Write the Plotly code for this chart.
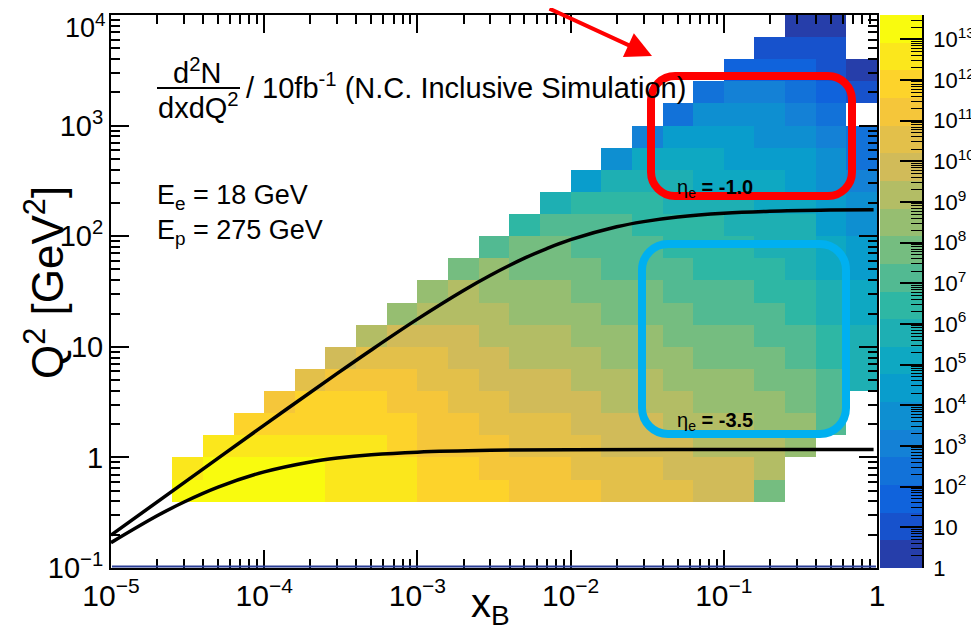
import math
import plotly.graph_objects as go

# ---------------- data ----------------
# bin edges of the 2D histogram (x_B and Q^2, 0.2 decade bins)
X_EDGES = [1.000e-05, 1.585e-05, 2.512e-05, 3.981e-05, 6.310e-05,
           1.000e-04, 1.585e-04, 2.512e-04, 3.981e-04, 6.310e-04,
           1.000e-03, 1.585e-03, 2.512e-03, 3.981e-03, 6.310e-03,
           1.000e-02, 1.585e-02, 2.512e-02, 3.981e-02, 6.310e-02,
           1.000e-01, 1.585e-01, 2.512e-01, 3.981e-01, 6.310e-01, 1.0]
Q2_EDGES = [0.1, 0.1585, 0.2512, 0.3981, 0.631,
            1.0, 1.585, 2.512, 3.981, 6.31,
            10.0, 15.85, 25.12, 39.81, 63.1,
            100.0, 158.5, 251.2, 398.1, 631.0,
            1000.0, 1585.0, 2512.0, 3981.0, 6310.0, 10000.0]

# log10(d2N/dxdQ2) per Q2 row (bottom -> top), one entry per x bin, None = empty
ROW00 = [None] * 25
ROW01 = [None] * 25
ROW02 = [None] * 25
ROW03 = [None, None, 13.95, 13.72, 13.49, 13.26, 13.04, 12.81, 12.58, 12.36, 12.13, 11.90, 11.68,
         11.45, 11.22, 10.99, 10.77, 10.54, 10.31, 10.09, 9.86, 7.80, None, None, None]
ROW04 = [None, None, 12.62, 13.39, 13.16, 12.95, 12.95, 12.48, 12.30, 12.30, 11.80, 11.57, 11.35,
         11.12, 10.89, 10.66, 10.44, 10.21, 9.98, 9.76, 9.53, 9.30, None, None, None]
ROW05 = [None, None, None, 12.50, 12.83, 12.60, 12.38, 12.30, 12.26, 11.70, 11.47, 11.24, 11.02,
         10.79, 10.56, 10.33, 10.11, 9.88, 9.65, 9.43, 9.20, 8.97, 8.75, None, None]
ROW06 = [None] * 4 + [11.70, 12.10, 12.05, 11.82, 11.59, 11.60, 11.14, 10.91, 10.69, 10.46, 10.23,
                      10.00, 9.78, 9.55, 9.32, 9.10, 8.87, 8.64, 8.42, 6.89] + [None]
ROW07 = [None] * 5 + [10.94, 11.72, 11.60, 11.57, 11.04, 10.90, 10.58, 10.36, 10.13, 9.90, 9.67,
                      9.45, 9.22, 8.99, 8.77, 8.54, 8.31, 8.09, 7.26] + [None]
ROW08 = [None] * 6 + [10.39, 11.16, 10.93, 10.90, 10.48, 10.25, 10.03, 9.80, 9.57, 9.34, 9.12,
                      8.89, 8.66, 8.44, 8.21, 7.98, 7.76, 6.93, 5.50]
ROW09 = [None] * 7 + [9.83, 10.60, 10.38, 10.25, 9.92, 9.70, 9.47, 9.24, 9.01, 8.79, 8.56,
                      8.33, 8.11, 7.88, 7.65, 7.43, 6.60, 5.87]
ROW10 = [None] * 8 + [9.27, 10.05, 9.82, 9.59, 9.37, 9.14, 8.91, 8.68, 8.46, 8.23, 8.00,
                      7.78, 7.55, 7.32, 7.10, 6.27, 5.54]
ROW11 = [None] * 9 + [8.72, 9.49, 9.26, 9.04, 8.81, 8.58, 8.35, 8.13, 7.90, 7.67, 7.45,
                      7.22, 6.99, 6.77, 5.94, 5.21]
ROW12 = [None] * 10 + [8.30, 8.93, 8.71, 8.48, 8.25, 8.02, 7.80, 7.57, 7.34, 7.12, 6.89,
                       6.66, 6.44, 5.61, 4.88]
ROW13 = [None] * 11 + [7.60, 8.38, 8.15, 7.92, 7.69, 7.47, 7.24, 7.01, 6.79, 6.56, 6.33,
                       6.11, 5.28, 4.55]
ROW14 = [None] * 12 + [7.05, 7.82, 7.59, 7.36, 7.14, 6.91, 6.68, 6.46, 6.23, 6.00, 5.78,
                       4.95, 4.22]
ROW15 = [None] * 13 + [6.49, 7.26, 7.03, 6.81, 6.58, 6.35, 6.13, 5.90, 5.67, 5.45, 4.62, 3.89]
ROW16 = [None] * 14 + [5.92, 6.69, 6.47, 6.24, 6.01, 5.79, 5.56, 5.33, 5.11, 4.28, 3.55]
ROW17 = [None] * 15 + [4.49, 6.07, 5.84, 5.61, 5.39, 5.16, 4.93, 4.71, 3.88, 3.15]
ROW18 = [None] * 16 + [3.82, 5.39, 5.16, 4.94, 4.71, 4.48, 4.26, 3.43, 2.70]
ROW19 = [None] * 17 + [3.14, 4.71, 4.49, 4.26, 4.03, 3.81, 2.98, 2.25]
ROW20 = [None] * 18 + [2.41, 3.99, 3.76, 3.53, 3.31, 2.48, None]
ROW21 = [None] * 19 + [2.39, 3.16, 2.93, 2.71, 1.88, 1.15]
ROW22 = [None] * 20 + [1.86, 1.93, 1.71, 0.88, 0.15]
ROW23 = [None] * 21 + [1.23, 1.01, 0.80, None]
ROW24 = [None] * 22 + [0.41, 0.30, None]

# constant electron-pseudorapidity lines
ETA_M10_X = [1.0e-5, 3.0e-5, 1.0e-4, 3.0e-4, 5.0e-4, 1.0e-3, 2.0e-3, 3.0e-3, 5.0e-3, 7.0e-3,
             1.0e-2, 2.0e-2, 3.0e-2, 5.0e-2, 0.1, 0.2, 0.5, 0.95]
ETA_M10_Q2 = [0.198, 0.592, 1.958, 5.746, 9.37, 17.79, 32.31, 44.37, 63.29, 77.4,
              93.0, 121.6, 135.4, 149.0, 161.1, 168.0, 172.3, 173.8]
ETA_M35_X = [1.0e-5, 2.0e-5, 3.0e-5, 5.0e-5, 1.0e-4, 2.0e-4, 3.0e-4, 5.0e-4, 1.0e-3, 3.0e-3,
             1.0e-2, 0.1, 0.95]
ETA_M35_Q2 = [0.1696, 0.2966, 0.3953, 0.5388, 0.7401, 0.9102, 0.9858, 1.0558, 1.1153, 1.1588,
              1.1749, 1.1812, 1.1818]

X_TICK_VALS = [1e-5, 1e-4, 1e-3, 1e-2, 1e-1, 1]
X_TICK_TEXT = ["10<sup>\u22125</sup>", "10<sup>\u22124</sup>", "10<sup>\u22123</sup>",
               "10<sup>\u22122</sup>", "10<sup>\u22121</sup>", "1"]
Y_TICK_VALS = [0.1, 1, 10, 100, 1000, 10000]
Y_TICK_TEXT = ["10<sup>\u22121</sup>", "1", "10", "10<sup>2</sup>", "10<sup>3</sup>", "10<sup>4</sup>"]
Z_TICK_VALS = list(range(0, 14))
Z_TICK_TEXT = ["1", "10"] + ["10<sup>%d</sup>" % n for n in range(2, 14)]
Z_MIN_LOG = 0.0
Z_MAX_LOG = 13.6
N_LEVELS = 20

# ---------------- style ----------------
FONT = "Liberation Sans, Arial, Helvetica, sans-serif"
OFF = 8                      # page offset of the figure inside the browser window
W, H = 979 - OFF, 631 - OFF
PL, PR_MAIN, PT, PB = 111, 877, 15, 568      # reference-window pixels
CBL, CBR = 880, 922
EPS = 1e-6


def px2x(px):
    return (px - PL) / (CBR - PL)


def py2y(py):
    return (PB - py) / (PB - PT)


BIRD_STOPS = [0.0, 0.125, 0.25, 0.375, 0.5, 0.625, 0.75, 0.875, 1.0]
BIRD_R = [0.2082, 0.0592, 0.0780, 0.0232, 0.1802, 0.5301, 0.8186, 0.9956, 0.9764]
BIRD_G = [0.1664, 0.3599, 0.5041, 0.6419, 0.7178, 0.7492, 0.7328, 0.7862, 0.9832]
BIRD_B = [0.5293, 0.8684, 0.8385, 0.7914, 0.6425, 0.4662, 0.3499, 0.1968, 0.0539]


def bird(f):
    for s in range(len(BIRD_STOPS) - 1):
        a, b = BIRD_STOPS[s], BIRD_STOPS[s + 1]
        if f <= b + 1e-9:
            t = (f - a) / (b - a)
            r = BIRD_R[s] + t * (BIRD_R[s + 1] - BIRD_R[s])
            g = BIRD_G[s] + t * (BIRD_G[s + 1] - BIRD_G[s])
            bb = BIRD_B[s] + t * (BIRD_B[s + 1] - BIRD_B[s])
            return "rgb(%d,%d,%d)" % (round(255 * r), round(255 * g), round(255 * bb))
    return "rgb(249,251,14)"


colorscale = []
for k in range(N_LEVELS):
    c = bird((k + 1) / N_LEVELS)
    colorscale.append([k / N_LEVELS, c])
    colorscale.append([(k + 1) / N_LEVELS, c])

Z = [ROW00, ROW01, ROW02, ROW03, ROW04, ROW05, ROW06, ROW07, ROW08, ROW09,
     ROW10, ROW11, ROW12, ROW13, ROW14, ROW15, ROW16, ROW17, ROW18, ROW19,
     ROW20, ROW21, ROW22, ROW23, ROW24]

fig = go.Figure()
fig.add_trace(go.Heatmap(
    x=X_EDGES, y=Q2_EDGES, z=Z, zmin=Z_MIN_LOG, zmax=Z_MAX_LOG,
    colorscale=colorscale, showscale=False, hoverongaps=False, xgap=0, ygap=0,
))

for xs, qs in [(ETA_M10_X, ETA_M10_Q2), (ETA_M35_X, ETA_M35_Q2)]:
    fig.add_trace(go.Scatter(x=xs, y=qs, mode="lines", line=dict(color="black", width=3.5, shape="spline"),
                             showlegend=False, hoverinfo="skip", cliponaxis=True))

# palette bar (z axis)
level_edges = [Z_MIN_LOG + k * (Z_MAX_LOG - Z_MIN_LOG) / N_LEVELS for k in range(N_LEVELS + 1)]
level_mid = [[(level_edges[k] + level_edges[k + 1]) / 2] for k in range(N_LEVELS)]
fig.add_trace(go.Heatmap(x=[0, 1], y=level_edges, z=level_mid, zmin=Z_MIN_LOG, zmax=Z_MAX_LOG,
                         colorscale=colorscale, showscale=False, hoverinfo="skip",
                         xaxis="x2", yaxis="y2"))

x_minor = [k * 10.0 ** n for n in range(-5, 0) for k in range(2, 10)]
y_minor = [k * 10.0 ** n for n in range(-1, 4) for k in range(2, 10)]
z_minor = [n + math.log10(k) for n in range(0, 14) for k in range(2, 10) if n + math.log10(k) < Z_MAX_LOG]

# the top-most y label is drawn as a note (shifted slightly down so it stays inside the page)
y_tick_text_axis = list(Y_TICK_TEXT[:-1]) + [""]

common = dict(showgrid=False, zeroline=False, showline=True, linecolor="black", linewidth=2,
              ticks="inside", tickcolor="black", tickwidth=1.5, mirror="ticks", automargin=False,
              ticklabeloverflow="allow")

fig.update_layout(
    template="none",
    width=W, height=H,
    margin=dict(l=PL - OFF, r=(W + OFF) - CBR, t=PT - OFF, b=(H + OFF) - PB, autoexpand=False),
    paper_bgcolor="white", plot_bgcolor="white",
    font=dict(family=FONT, color="black"),
    showlegend=False,
    xaxis=dict(type="log", range=[-5 - EPS, 0 + EPS], domain=[0, px2x(PR_MAIN)], anchor="y",
               tickmode="array", tickvals=X_TICK_VALS, ticktext=X_TICK_TEXT, ticklen=18,
               tickfont=dict(size=30, family=FONT),
               minor=dict(tickmode="array", tickvals=x_minor, ticks="inside", ticklen=9,
                          tickwidth=1.5, tickcolor="black", showgrid=False),
               **common),
    yaxis=dict(type="log", range=[-1 - EPS, 4 + EPS], domain=[0, 1], anchor="x",
               tickmode="array", tickvals=Y_TICK_VALS, ticktext=y_tick_text_axis, ticklen=18,
               tickfont=dict(size=29, family=FONT),
               minor=dict(tickmode="array", tickvals=y_minor, ticks="inside", ticklen=9,
                          tickwidth=1.5, tickcolor="black", showgrid=False),
               **common),
    xaxis2=dict(domain=[px2x(CBL), 1], anchor="y2", range=[0, 1], visible=False, fixedrange=True,
                automargin=False),
    yaxis2=dict(domain=[0, 1], anchor="x2", side="right", range=[Z_MIN_LOG, Z_MAX_LOG],
                tickmode="array", tickvals=Z_TICK_VALS, ticktext=Z_TICK_TEXT,
                ticks="inside", ticklen=22, tickwidth=1.5, tickcolor="black", automargin=False,
                showline=True, linecolor="black", linewidth=1.5, showgrid=False, zeroline=False,
                tickfont=dict(size=22, family=FONT), ticklabelstandoff=5, ticklabeloverflow="allow",
                minor=dict(tickmode="array", tickvals=z_minor, ticks="inside", ticklen=11,
                           tickwidth=1.2, tickcolor="black", showgrid=False)),
)


def rounded_rect(l, t, r, b, rad):
    k = 0.552 * rad

    def P(px, py):
        return "%.5f,%.5f" % (px2x(px), py2y(py))
    path = "M " + P(l + rad, t)
    path += " L " + P(r - rad, t)
    path += " C " + P(r - rad + k, t) + " " + P(r, t + rad - k) + " " + P(r, t + rad)
    path += " L " + P(r, b - rad)
    path += " C " + P(r, b - rad + k) + " " + P(r - rad + k, b) + " " + P(r - rad, b)
    path += " L " + P(l + rad, b)
    path += " C " + P(l + rad - k, b) + " " + P(l, b - rad + k) + " " + P(l, b - rad)
    path += " L " + P(l, t + rad)
    path += " C " + P(l, t + rad - k) + " " + P(l + rad - k, t) + " " + P(l + rad, t)
    path += " Z"
    return path


shapes = [
    dict(type="path", xref="paper", yref="paper", path=rounded_rect(651, 76, 852, 196, 24),
         line=dict(color="#ff0000", width=8), layer="above"),
    dict(type="path", xref="paper", yref="paper", path=rounded_rect(642, 244, 846, 434, 26),
         line=dict(color="#00b0f0", width=8), layer="above"),
    dict(type="line", xref="paper", yref="paper", x0=px2x(157), x1=px2x(240), y0=py2y(88), y1=py2y(88),
         line=dict(color="black", width=2.2)),
    dict(type="line", xref="paper", yref="paper", x0=px2x(112), x1=px2x(876), y0=py2y(566.5),
         y1=py2y(566.5), line=dict(color="#2a3d96", width=2), layer="above"),
]
fig.update_layout(shapes=shapes)

ann = []
TXT = dict(family=FONT, size=29, color="black")
ann.append(dict(x=px2x(107), y=py2y(8), text=Y_TICK_TEXT[-1], xanchor="right", yanchor="top",
                font=dict(family=FONT, size=27, color="black"), borderpad=0))
ann.append(dict(x=px2x(197), y=py2y(71), text="d<sup>2</sup>N", xanchor="center", yanchor="middle", font=TXT))
ann.append(dict(x=px2x(198), y=py2y(106), text="dxdQ<sup>2</sup>", xanchor="center", yanchor="middle", font=TXT))
ann.append(dict(x=px2x(244), y=py2y(86), text="/ 10fb<sup>-1</sup> (N.C. Inclusive Simulation)",
                xanchor="left", yanchor="middle", font=TXT))
ann.append(dict(x=px2x(155), y=py2y(197), text="E<sub>e</sub> = 18 GeV", xanchor="left", yanchor="middle",
                font=dict(family=FONT, size=27, color="black")))
ann.append(dict(x=px2x(155), y=py2y(232), text="E<sub>p</sub> = 275 GeV", xanchor="left", yanchor="middle",
                font=dict(family=FONT, size=27, color="black")))
ann.append(dict(x=px2x(675), y=py2y(188), text="\u03b7<sub>e</sub> <b>= -1.0</b>", xanchor="left",
                yanchor="middle", font=dict(family=FONT, size=20, color="black")))
ann.append(dict(x=px2x(675), y=py2y(421), text="\u03b7<sub>e</sub> <b>= -3.5</b>", xanchor="left",
                yanchor="middle", font=dict(family=FONT, size=20, color="black")))
ann.append(dict(x=px2x(44), y=py2y(283), text="Q<sup>2</sup> [GeV<sup>2</sup>]", textangle=-90,
                xanchor="center", yanchor="middle", font=dict(family=FONT, size=44, color="black")))
ann.append(dict(x=px2x(490), y=py2y(606), text="x<sub>B</sub>", xanchor="center", yanchor="middle",
                font=dict(family=FONT, size=40, color="black")))
ann.append(dict(x=px2x(652), y=py2y(56), ax=-104, ay=-58, text="", showarrow=True, arrowhead=2,
                arrowsize=1.3, arrowwidth=4, arrowcolor="#ff0000", standoff=0))
for a in ann:
    a.setdefault("xref", "paper")
    a.setdefault("yref", "paper")
    a.setdefault("showarrow", False)
fig.update_layout(annotations=ann)

fig.write_html("out.html")
